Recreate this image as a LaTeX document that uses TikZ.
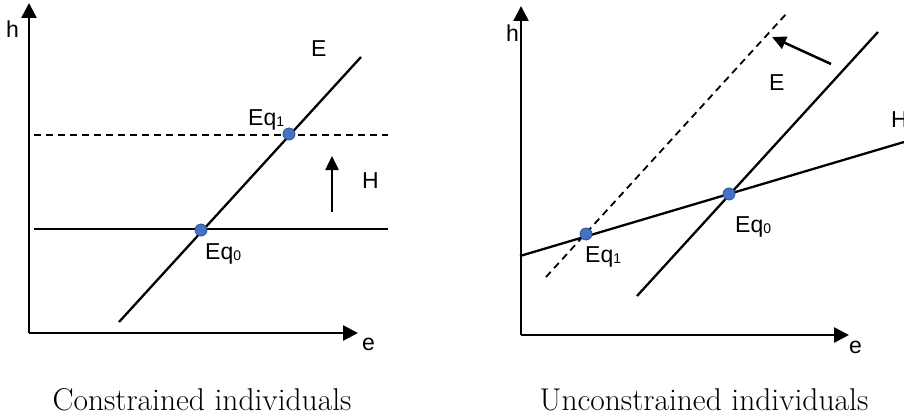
\documentclass[tikz,border=0pt]{standalone}
\usepackage{fontspec}
\newfontfamily\lab{Liberation Sans}
\usetikzlibrary{arrows.meta}
\definecolor{dotfill}{RGB}{68,114,196}
\definecolor{dotedge}{RGB}{47,82,143}
\tikzset{
  axis/.style={line width=2.6pt,-{Triangle[length=15pt,width=15pt]}},
  curve/.style={line width=2.3pt},
  dcurve/.style={line width=1.8pt,dash pattern=on 7pt off 5pt},
  shiftarrow/.style={line width=2.5pt,-{Triangle[length=14pt,width=13pt]}},
  lbl/.style={inner sep=0pt,anchor=base west,font=\lab\fontsize{23}{23}\selectfont},
  captiontext/.style={inner sep=0pt,anchor=base,font=\fontsize{31.5}{33}\selectfont},
  eqdot/.style={circle,fill=dotfill,draw=dotedge,line width=0.8pt,minimum size=12pt,inner sep=0pt}
}
\newcommand{\sub}[1]{\raisebox{-1pt}{\fontsize{14}{14}\selectfont #1}}
\begin{document}
\begin{tikzpicture}[x=1pt,y=-1pt]
\useasboundingbox (0,0) rectangle (904,417);
% ---------- left panel ----------
\coordinate (LO) at (29,333);
\coordinate (LY) at (29,3);
\coordinate (LX) at (358,333);
\draw[axis] (LO) -- (LY);
\draw[axis] (LO) -- (LX);
\coordinate (LH0a) at (34,229);
\coordinate (LH0b) at (388,229);
\coordinate (LH1a) at (34,135);
\coordinate (LH1b) at (388,135);
\coordinate (LEa) at (119,322);
\coordinate (LEb) at (361,57);
\draw[curve] (LH0a) -- (LH0b);
\draw[dcurve] (LH1a) -- (LH1b);
\draw[curve] (LEa) -- (LEb);
\coordinate (LAa) at (332,212);
\coordinate (LAb) at (332,156);
\draw[shiftarrow] (LAa) -- (LAb);
\node[eqdot] (Leq0) at (201,230) {};
\node[eqdot] (Leq1) at (289,134) {};
\node[lbl] (Lh) at (6,38) {h};
\node[lbl] (Le) at (362,350) {e};
\node[lbl] (LE) at (311,57) {E};
\node[lbl] (LHl) at (362,188) {H};
\node[lbl] (LEq1l) at (248,125) {Eq\sub{1}};
\node[lbl] (LEq0l) at (205,259) {Eq\sub{0}};
\node[captiontext] (Lcap) at (202,410) {Constrained individuals};
% ---------- right panel ----------
\coordinate (RO) at (521,335);
\coordinate (RY) at (521,6);
\coordinate (RX) at (849,335);
\draw[axis] (RO) -- (RY);
\draw[axis] (RO) -- (RX);
\coordinate (RHa) at (520,256);
\coordinate (RHb) at (904,142);
\coordinate (REa) at (637,296);
\coordinate (REb) at (878,32);
\coordinate (RDa) at (546,277);
\coordinate (RDb) at (787,13);
\draw[curve] (RHa) -- (RHb);
\draw[curve] (REa) -- (REb);
\draw[dcurve] (RDa) -- (RDb);
\coordinate (RAa) at (831,64);
\coordinate (RAb) at (772,37);
\draw[shiftarrow] (RAa) -- (RAb);
\node[eqdot] (Req0) at (729,194) {};
\node[eqdot] (Req1) at (586,234) {};
\node[lbl] (Rh) at (506,42) {h};
\node[lbl] (Re) at (849,353) {e};
\node[lbl] (RE) at (769,91) {E};
\node[lbl] (RHl) at (891,128) {H};
\node[lbl] (REq0l) at (735,232) {Eq\sub{0}};
\node[lbl] (REq1l) at (585,262) {Eq\sub{1}};
\node[captiontext] (Rcap) at (704,410) {Unconstrained individuals};
\end{tikzpicture}
\end{document}
